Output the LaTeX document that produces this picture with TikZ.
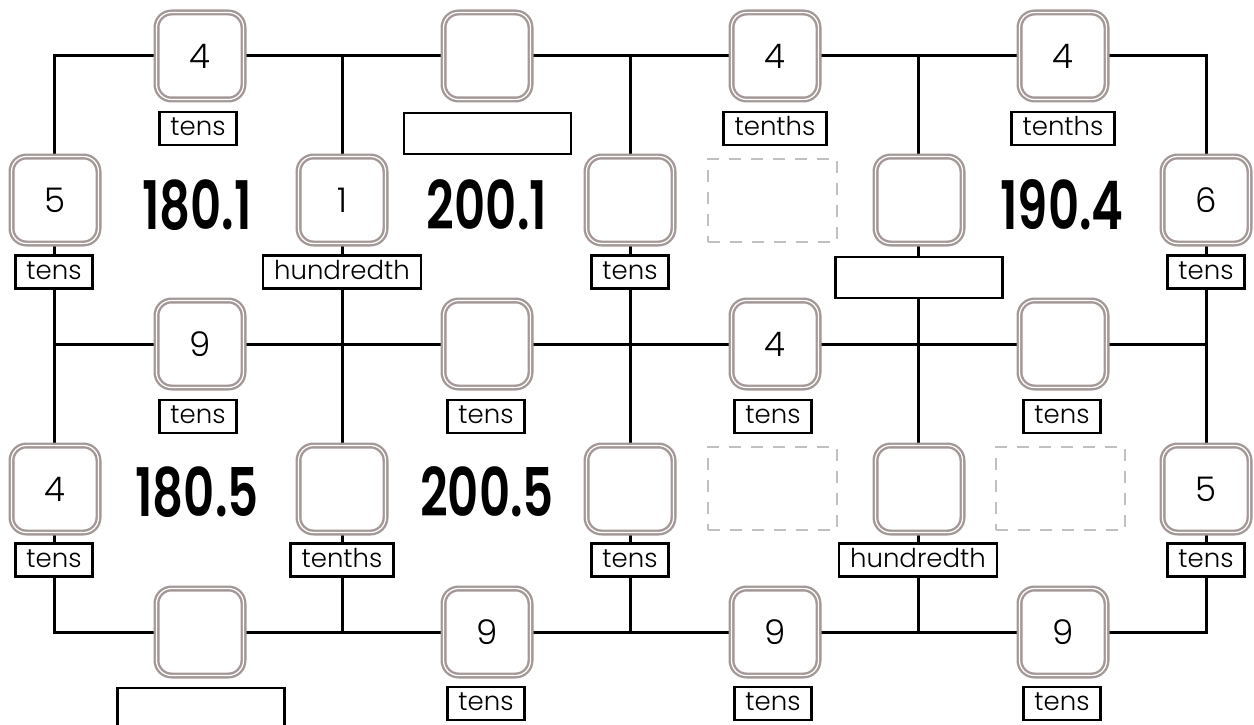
\documentclass[tikz,border=0pt]{standalone}
\usepackage{fontspec}
\setmainfont{Poppins}
\newfontfamily\thinfont{Poppins Light}
\newfontfamily\semifont{Poppins SemiBold}
\usepackage{graphicx}
\definecolor{boxgray}{RGB}{164,152,151}
\definecolor{dashgray}{RGB}{192,192,192}
\newcommand{\bignum}[1]{\scalebox{0.72}[1]{#1}}
\begin{document}
\begin{tikzpicture}[x=1pt,y=-1pt,
  slot/.style={draw=boxgray, double=white, double distance=1.2pt, line width=2.4pt, fill=white,
    rounded corners=15pt, minimum width=87pt, minimum height=87pt, inner sep=0pt,
    font=\thinfont\fontsize{34}{34}\selectfont},
  unit/.style={draw=black, line width=2.3pt, fill=white, inner xsep=11pt, inner ysep=5pt,
    text height=18.5pt, text depth=4.5pt, font=\thinfont\fontsize{26}{26}\selectfont},
  blank/.style={draw=black, line width=2.3pt, fill=white, minimum width=167pt, minimum height=41pt, inner sep=0pt},
  ghost/.style={draw=dashgray, line width=2pt, dash pattern=on 12pt off 10pt, minimum width=129pt, minimum height=83pt, inner sep=0pt},
  big/.style={font=\semifont\fontsize{67}{67}\selectfont, inner sep=0pt},
  gridline/.style={line width=3pt, black, line join=miter}
]
\useasboundingbox (0,0) rectangle (1254,725);
% grid coordinates
\foreach \c/\x in {0/54,1/342,2/630,3/918,4/1206}{
  \foreach \r/\y in {0/56,1/344,2/632}{
    \coordinate (g\c\r) at (\x,\y);
  }
}
\draw[gridline] (g00) -- (g40) -- (g42) -- (g02) -- cycle;
\draw[gridline] (g01) -- (g41);
\draw[gridline] (g10) -- (g12);
\draw[gridline] (g20) -- (g22);
\draw[gridline] (g30) -- (g32);

% ghost boxes
\node[ghost] (h1) at (772,200) {};
\node[ghost] (h2) at (772,488) {};
\node[ghost] (h3) at (1060,488) {};

% top row
\node[slot] (t1) at (200,56) {4};
\node[slot] (t2) at (487,56) {};
\node[slot] (t3) at (775,56) {4};
\node[slot] (t4) at (1063,56) {4};
\node[unit]  (lt1) at (198,128.5) {tens};
\node[blank] (lt2) at (487.5,133.5) {};
\node[unit]  (lt3) at (775,128.5) {tenths};
\node[unit]  (lt4) at (1063,128.5) {tenths};

% first column row
\node[slot] (a1) at (55,200) {5};
\node[slot] (a2) at (342,200) {1};
\node[slot] (a3) at (630,200) {};
\node[slot] (a4) at (919,200) {};
\node[slot] (a5) at (1206,200) {6};
\node[unit]  (la1) at (54,272) {tens};
\node[unit]  (la2) at (342,272) {hundredth};
\node[unit]  (la3) at (630,272) {tens};
\node[blank] (la4) at (919,277.5) {};
\node[unit]  (la5) at (1206,272) {tens};

% middle row
\node[slot] (m1) at (200,344) {9};
\node[slot] (m2) at (487,344) {};
\node[slot] (m3) at (775,344) {4};
\node[slot] (m4) at (1063,344) {};
\node[unit] (lm1) at (198,416.5) {tens};
\node[unit] (lm2) at (486,416.5) {tens};
\node[unit] (lm3) at (773,416.5) {tens};
\node[unit] (lm4) at (1062,416.5) {tens};

% second column row
\node[slot] (b1) at (55,489) {4};
\node[slot] (b2) at (342,489) {};
\node[slot] (b3) at (630,489) {};
\node[slot] (b4) at (919,489) {};
\node[slot] (b5) at (1206,489) {5};
\node[unit] (lb1) at (54,560) {tens};
\node[unit] (lb2) at (342,560) {tenths};
\node[unit] (lb3) at (630,560) {tens};
\node[unit] (lb4) at (918,560) {hundredth};
\node[unit] (lb5) at (1206,560) {tens};

% bottom row
\node[slot] (d1) at (200,632) {};
\node[slot] (d2) at (487,632) {9};
\node[slot] (d3) at (775,632) {9};
\node[slot] (d4) at (1063,632) {9};
\node[blank] (ld1) at (201,708.5) {};
\node[unit] (ld2) at (486,703.5) {tens};
\node[unit] (ld3) at (773,703.5) {tens};
\node[unit] (ld4) at (1062,703.5) {tens};

% big numbers
\node[big] (n1) at (197,205) {\bignum{180.1}};
\node[big] (n2) at (487,205) {\bignum{200.1}};
\node[big] (n3) at (1062,205) {\bignum{190.4}};
\node[big] (n4) at (197,492) {\bignum{180.5}};
\node[big] (n5) at (487,492) {\bignum{200.5}};
\end{tikzpicture}
\end{document}
